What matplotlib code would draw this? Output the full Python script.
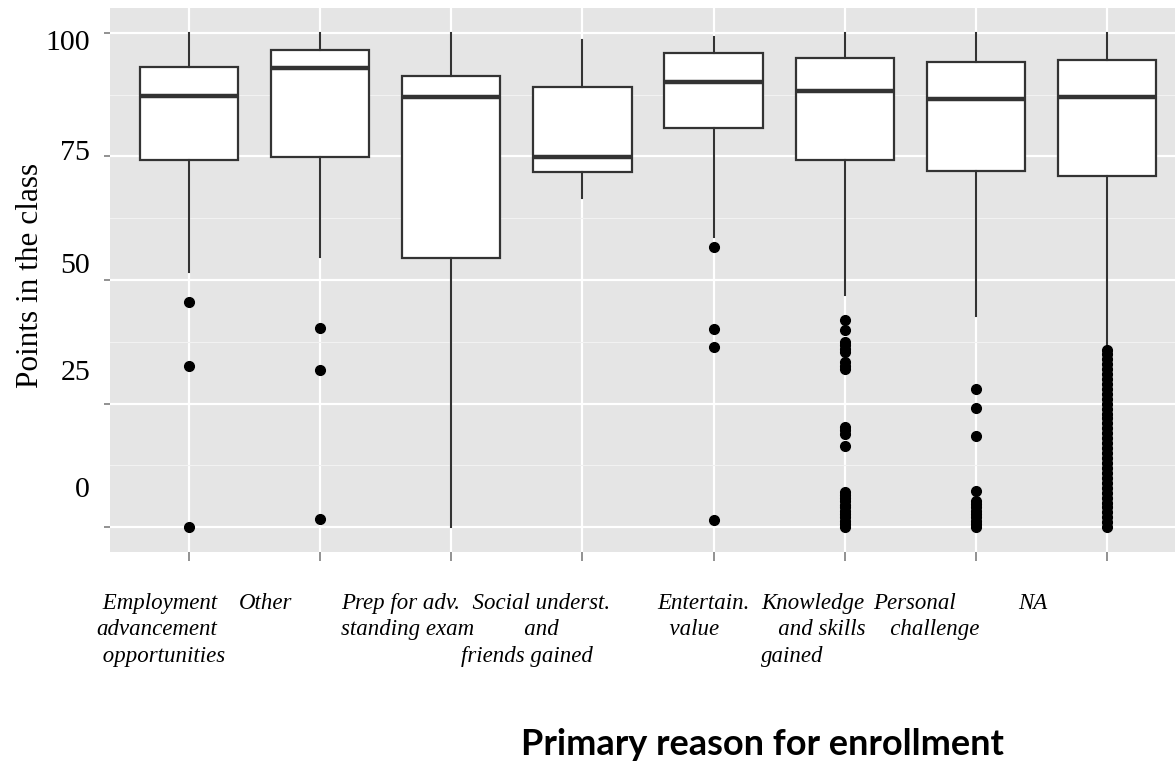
import matplotlib
matplotlib.use("Agg")
import matplotlib.pyplot as plt
from matplotlib.transforms import blended_transform_factory

# enrollment reasons, drawn left to right
reasons = [
    " Employment\nadvancement\n opportunities",
    "Other",
    "Prep for adv.\nstanding exam",
    "  Social underst.\n           and\nfriends gained",
    "Entertain.\n  value",
    "Knowledge\n   and skills\ngained",
    "Personal\n   challenge",
    "NA",
]

# five-number summaries of points per group
whisker_low = [51.6, 54.6, 0.0, 66.5, 58.7, 46.9, 42.8, 36.5]
quart_1 = [74.3, 74.8, 54.4, 71.9, 80.7, 74.3, 72.1, 71.0]
medians = [87.3, 92.8, 87.1, 74.8, 90.0, 88.3, 86.5, 87.0]
quart_3 = [93.0, 96.6, 91.3, 89.0, 95.9, 94.9, 94.1, 94.4]
whisker_high = [100, 100, 100, 98.5, 99.1, 100, 100, 100]

# outlying scores
outliers = [
    [45.5, 32.7, 0.0],
    [40.3, 31.8, 1.6],
    [],
    [],
    [56.7, 40.1, 36.5, 1.4],
    [42.0, 39.8, 37.4, 36.8, 36.1, 35.4, 33.4, 32.7, 32.1, 20.3, 19.6, 18.9,
     16.4, 7.1, 6.5, 6.0, 5.3, 4.6, 4.0, 3.3, 2.6, 2.0, 1.3, 0.7, 0.0],
    [28.0, 24.1, 18.4, 7.3, 5.4, 4.7, 4.0, 3.3, 2.6, 2.0, 1.3, 0.7, 0.0],
    [35.8, 35, 34, 33, 32, 31, 30, 29, 28, 27, 26, 25, 24, 23, 22, 21, 20,
     19, 18, 17, 16, 15, 14, 13, 12, 11, 10, 9, 8, 7, 6, 5, 4, 3, 2, 1, 0],
]

y_ticks = [0, 25, 50, 75, 100]
# where the tick numbers sit on the value scale
y_tick_label_pos = [7.5, 31.1, 52.9, 75.6, 98.0]

# label offsets from each tick, in pixels
label_dx = [-92, -81, -110, -121, -56, -84, -103, -89]

W, H = 1175, 767
fig = plt.figure(figsize=(W / 100, H / 100), dpi=100)
ax = fig.add_axes([110 / W, 1 - 552 / H, 1076 / W, 544 / H])
ax.set_facecolor("#E5E5E5")
for s in ax.spines.values():
    s.set_visible(False)

stats = []
for i in range(len(reasons)):
    stats.append(dict(med=medians[i], q1=quart_1[i], q3=quart_3[i],
                      whislo=whisker_low[i], whishi=whisker_high[i],
                      fliers=outliers[i]))

positions = list(range(1, len(reasons) + 1))
edge = "#333333"
ax.bxp(stats, positions=positions, widths=0.75, showcaps=False,
       patch_artist=True,
       boxprops=dict(facecolor="white", edgecolor=edge, linewidth=1.6),
       whiskerprops=dict(color=edge, linewidth=1.5),
       medianprops=dict(color=edge, linewidth=3.2, solid_capstyle="butt"),
       flierprops=dict(marker="o", markerfacecolor="black",
                       markeredgecolor="black", markersize=7,
                       linestyle="none"),
       zorder=3)

ax.set_xlim(0.4, 8.6)
ax.set_ylim(-5, 105)

ax.set_yticks(y_ticks)
ax.set_yticks([12.5, 37.5, 62.5, 87.5], minor=True)
ax.set_xticks(positions)
ax.set_xticklabels([])
ax.set_yticklabels([])
ax.grid(which="major", color="white", linewidth=1.6, zorder=0)
ax.grid(which="minor", axis="y", color="#F2F2F2", linewidth=0.8, zorder=0)
ax.set_axisbelow(True)
ax.tick_params(axis="y", which="major", length=4.5, width=1.2, color="#7F7F7F")
ax.tick_params(axis="x", which="major", length=6.5, width=1.2, color="#7F7F7F")
ax.tick_params(which="minor", length=0)

serif = ["Liberation Serif", "DejaVu Serif"]

for v, lab in zip(y_tick_label_pos, y_ticks):
    ax.text(-20 / 1076, v, str(lab), transform=ax.get_yaxis_transform(),
            ha="right", va="center", fontsize=21.5, family=serif)

xt = blended_transform_factory(ax.transData, fig.transFigure)
px_per_unit = 1076 / 8.2
for pos, lab, dx in zip(positions, reasons, label_dx):
    ax.text(pos + dx / px_per_unit, 1 - 593 / H, lab, transform=xt,
            ha="left", va="top", multialignment="left", linespacing=1.33,
            fontsize=16.5, style="italic", family=serif)

fig.text(31 / W, 1 - 275 / H, "Points in the class", rotation=90,
         ha="center", va="center", fontsize=22.5, family=serif)
fig.text(762 / W, 1 - 755 / H, "Primary reason for enrollment",
         ha="center", va="baseline", fontsize=26, fontweight="bold",
         family=["Lato", "DejaVu Sans"])

fig.savefig("out.png", dpi=100)
